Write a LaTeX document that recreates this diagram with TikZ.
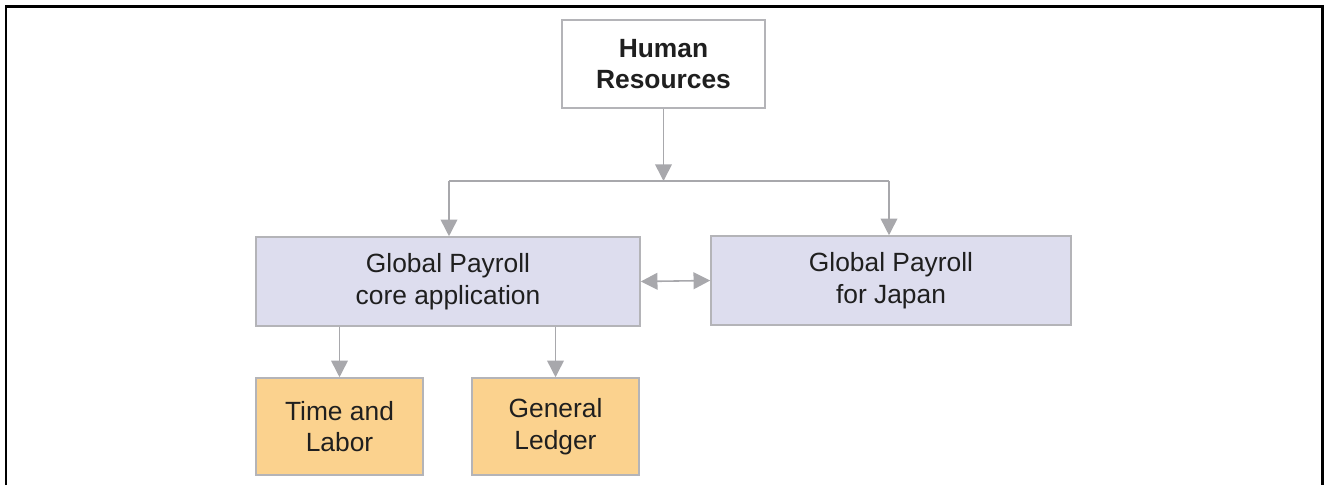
\documentclass[tikz,border=0pt]{standalone}
\usepackage{fontspec}
\setmainfont{Liberation Sans}
\usetikzlibrary{arrows.meta}
\usetikzlibrary{positioning}
\definecolor{boxline}{HTML}{B4B4B8}
\definecolor{arrowgray}{HTML}{A8A8AC}
\definecolor{lavender}{HTML}{DDDDEE}
\definecolor{peach}{HTML}{FBD28E}
\tikzset{
  module/.style={draw=boxline, line width=0.9pt, inner sep=0pt, align=center,
    font=\fontsize{15pt}{18pt}\selectfont, text=black!88},
  flow/.style={draw=arrowgray, line width=0.9pt, -{Triangle[width=9.5pt,length=9.5pt]}},
}

\begin{document}
\begin{tikzpicture}[x=0.02cm, y=-0.02cm]
  \useasboundingbox (0,0) rectangle (1328,485);
  % outer frame, open at the bottom
  \draw[line width=1.7pt] (6,485) -- (6,6) -- (1322,6) -- (1322,485);

  \node[module, fill=white, minimum width=4.06cm, minimum height=1.76cm,
        font=\fontsize{15pt}{18pt}\selectfont\bfseries] (hr) at (663.5,64) {Human\\Resources};
  \node[module, fill=lavender, minimum width=7.68cm, minimum height=1.78cm] (core) at (448,281.5) {Global Payroll\\core application};
  \node[module, fill=lavender, minimum width=7.2cm, minimum height=1.78cm] (japan) at (891,280.5) {Global Payroll\\for Japan};
  \node[module, fill=peach, minimum width=3.34cm, minimum height=1.94cm] (tl) at (339.5,426.5) {Time and\\Labor};
  \node[module, fill=peach, minimum width=3.34cm, minimum height=1.94cm] (gl) at (555.5,426.5) {General\\Ledger};

  \coordinate (bus) at (663.5,181);
  \coordinate (busl) at (449,181);
  \coordinate (busr) at (889,181);

  \draw[flow] (hr.south) -- (bus);
  \draw[draw=arrowgray, line width=0.9pt] (busl) -- (busr);
  \draw[flow] (busl) -- (busl |- core.north);
  \draw[flow] (busr) -- (busr |- japan.north);
  \draw[flow, {Triangle[width=9.5pt,length=9.5pt]}-{Triangle[width=9.5pt,length=9.5pt]}] (core.east) -- (japan.west);
  \draw[flow] (tl.north |- core.south) -- (tl.north);
  \draw[flow] (gl.north |- core.south) -- (gl.north);
\end{tikzpicture}
\end{document}
